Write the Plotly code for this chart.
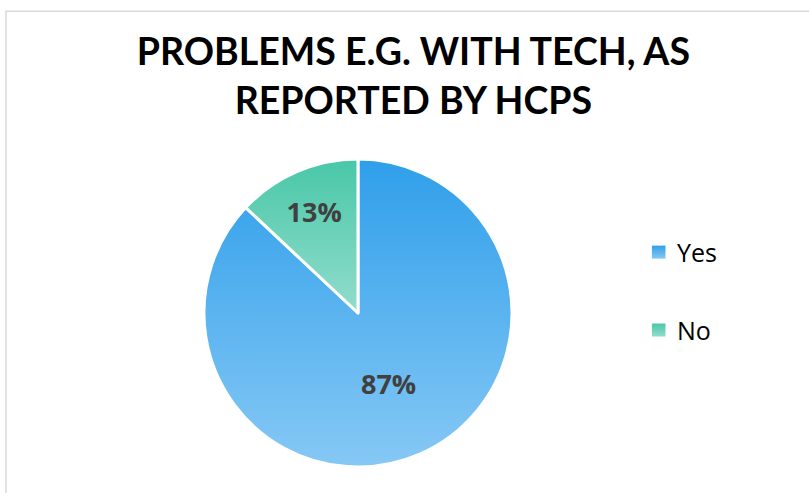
import plotly.graph_objects as go

# Survey answers
labels = ["Yes", "No"]
values = [87, 13]
title_text = "PROBLEMS E.G. WITH TECH, AS<br>REPORTED BY HCPS"

# Base colours (mid-tones); top/bottom stops used for the vertical gradient
base_colors = ["#5ab4ee", "#6dd3ba"]
grad_stops = {
    "rgb(90, 180, 238)": ("gradYes", "#2f9fea", "#86c8f5"),
    "rgb(109, 211, 186)": ("gradNo", "#49c7a8", "#92ddcc"),
}

fig = go.Figure()
fig.add_trace(go.Pie(
    labels=labels,
    values=values,
    sort=False,
    direction="clockwise",
    rotation=0,
    marker=dict(colors=base_colors, line=dict(color="white", width=3)),
    texttemplate="%{percent:.0%}",
    textposition="inside",
    insidetextorientation="horizontal",
    textfont=dict(family="Open Sans", size=27, color="#404040", weight="bold"),
    domain=dict(x=[0.252, 0.633], y=[0.0527, 0.6775]),
    showlegend=False,
    hoverinfo="label+percent",
))

# Outer chart frame
fig.add_shape(type="rect", xref="paper", yref="paper",
              x0=0.0074, x1=1.02, y0=-0.02, y1=0.977,
              line=dict(color="#d9d9d9", width=1.5), fillcolor="rgba(0,0,0,0)")

# Legend: square swatches and labels
legend_rows = [(labels[0], base_colors[0], 0.4886), (labels[1], base_colors[1], 0.3306)]
for name, col, yc in legend_rows:
    fig.add_shape(type="rect", xref="paper", yref="paper",
                  x0=0.8058, x1=0.8226, y0=yc - 0.0132, y1=yc + 0.0132,
                  line=dict(width=0), fillcolor=col)
    fig.add_annotation(text=name, xref="paper", yref="paper", x=0.8345, y=yc,
                       xanchor="left", yanchor="middle", showarrow=False,
                       font=dict(family="Open Sans", size=25, color="#000000"))

fig.update_layout(
    width=809, height=493,
    margin=dict(l=0, r=0, t=0, b=0),
    paper_bgcolor="white",
    plot_bgcolor="white",
    title=dict(text=title_text, x=0.511, xanchor="center", y=0.868, yanchor="top",
               font=dict(family="Lato", size=37.5, color="#000000", weight="bold")),
)

# Vertical gradients on slices and swatches
stops_js = ",".join(
    "'%s':['%s','%s','%s']" % (k, v[0], v[1], v[2]) for k, v in grad_stops.items()
)
post_script = """
var gd = document.getElementById('{plot_id}');
var ns = 'http://www.w3.org/2000/svg';
var svg = gd.querySelector('svg.main-svg');
var defs = svg.querySelector('defs');
if (!defs) { defs = document.createElementNS(ns, 'defs'); svg.insertBefore(defs, svg.firstChild); }
var map = {%s};
Object.keys(map).forEach(function(k) {
  var m = map[k];
  var g = document.createElementNS(ns, 'linearGradient');
  g.setAttribute('id', m[0]);
  g.setAttribute('x1', '0'); g.setAttribute('y1', '0');
  g.setAttribute('x2', '0'); g.setAttribute('y2', '1');
  [[0, m[1]], [1, m[2]]].forEach(function(s) {
    var st = document.createElementNS(ns, 'stop');
    st.setAttribute('offset', s[0]);
    st.setAttribute('stop-color', s[1]);
    g.appendChild(st);
  });
  defs.appendChild(g);
});
gd.querySelectorAll('path').forEach(function(p) {
  var f = p.style.fill;
  if (map[f]) { p.style.fill = 'url(#' + map[f][0] + ')'; }
});
""" % stops_js

fig.write_html("out.html", post_script=post_script)
